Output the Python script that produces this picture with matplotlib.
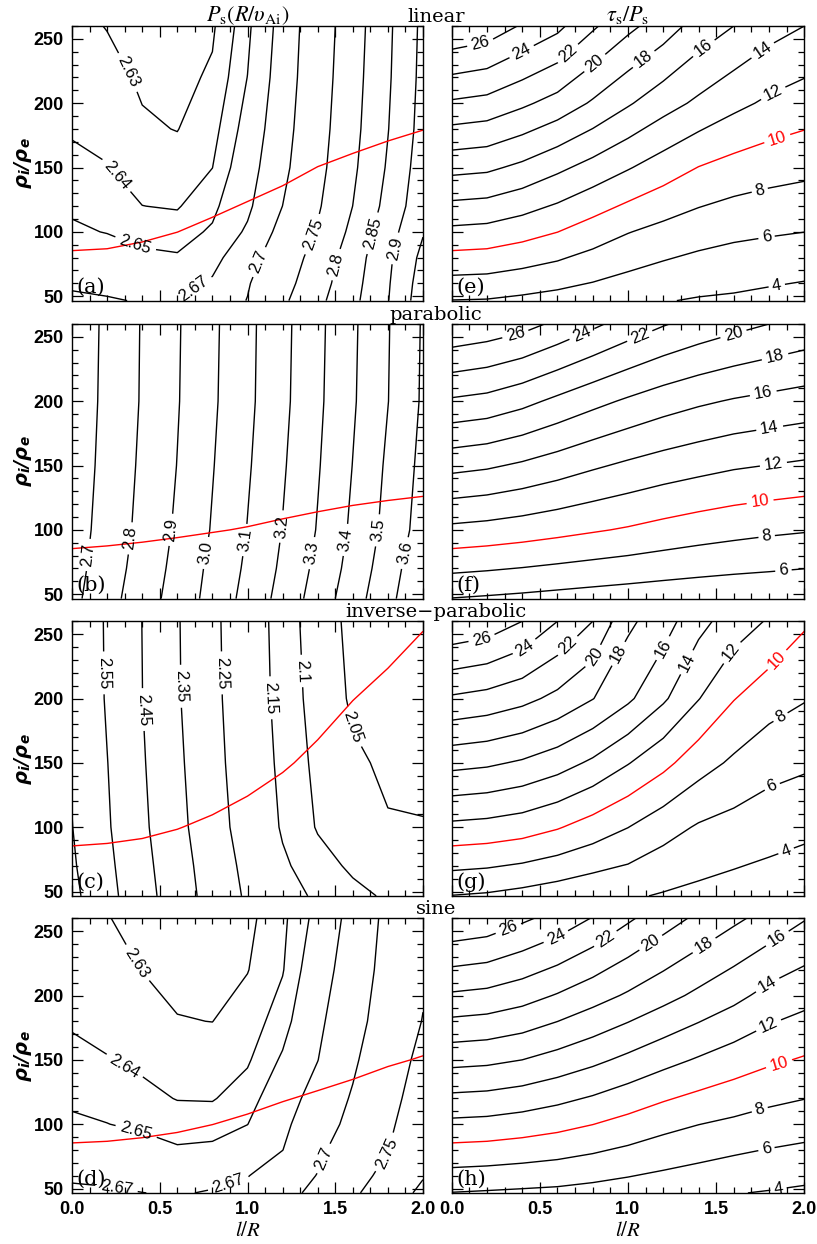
import numpy as np
import matplotlib
matplotlib.use("Agg")
import matplotlib.pyplot as plt
from matplotlib.ticker import MultipleLocator, FormatStrFormatter

# ---------------- data ----------------
l_grid = [0.0, 0.2, 0.4, 0.6, 0.8, 1.0, 1.2, 1.4, 1.6, 1.8, 2.0]

# tau_s / P_s tables, rows = density ratio values below
rho_tau = [46.6, 100, 150, 200, 260]
tau_linear = [
    [5.95, 5.88, 5.58, 5.25, 4.89, 4.49, 4.10, 3.84, 3.70, 3.45, 3.21],
    [11.52, 11.34, 10.76, 10.02, 9.03, 8.08, 7.39, 6.82, 6.42, 6.20, 6.01],
    [16.62, 16.38, 15.55, 14.43, 13.30, 12.15, 11.03, 9.95, 9.29, 8.84, 8.54],
    [21.72, 21.36, 20.36, 19.26, 17.75, 16.22, 14.80, 13.62, 12.52, 11.65, 11.05],
    [27.85, 27.25, 25.80, 24.50, 22.30, 20.50, 19.00, 17.20, 16.00, 14.80, 14.00],
]
tau_parabolic = [
    [5.95, 5.76, 5.56, 5.34, 5.14, 4.96, 4.80, 4.67, 4.56, 4.49, 4.35],
    [11.52, 11.29, 10.97, 10.59, 10.19, 9.81, 9.36, 8.96, 8.63, 8.35, 8.15],
    [16.62, 16.28, 15.70, 15.01, 14.28, 13.65, 13.10, 12.65, 12.23, 11.96, 11.70],
    [21.72, 21.36, 20.57, 19.55, 18.58, 17.71, 16.93, 16.31, 15.83, 15.48, 15.16],
    [27.85, 27.37, 26.70, 25.60, 24.40, 23.20, 22.15, 21.30, 20.60, 20.00, 19.44],
]
tau_invparabolic = [
    [5.95, 5.74, 5.34, 4.88, 4.44, 4.25, 3.83, 3.50, 3.18, 2.90, 2.51],
    [11.52, 11.32, 10.92, 10.16, 9.13, 8.03, 6.79, 5.79, 5.30, 4.85, 4.49],
    [16.62, 16.33, 15.75, 14.87, 13.65, 12.11, 10.57, 8.84, 7.66, 6.72, 6.32],
    [21.72, 21.30, 20.58, 19.48, 18.06, 16.36, 14.31, 12.08, 10.08, 8.84, 8.12],
    [27.85, 27.30, 26.00, 24.00, 22.00, 18.40, 16.90, 14.60, 13.05, 11.80, 10.28],
]
tau_sine = [
    [5.95, 5.81, 5.67, 5.54, 5.29, 5.00, 4.73, 4.44, 4.08, 3.88, 3.65],
    [11.52, 11.39, 11.06, 10.61, 10.03, 9.34, 8.59, 8.03, 7.61, 7.16, 6.85],
    [16.62, 16.44, 16.00, 15.27, 14.46, 13.55, 12.63, 11.81, 11.04, 10.33, 9.82],
    [21.72, 21.44, 20.80, 19.85, 18.80, 17.75, 16.66, 15.58, 14.55, 13.38, 12.67],
    [27.85, 27.42, 26.36, 25.30, 23.90, 22.30, 20.90, 19.60, 18.40, 17.30, 16.12],
]

# P_s tables
rho_fine = [46.6, 60, 80, 100, 120, 150, 180, 220, 260]
rho_coarse = [46.6, 70, 100, 150, 200, 260]
P_linear = [
    [2.674, 2.672, 2.6685, 2.6695, 2.680, 2.701, 2.7417, 2.788, 2.8377, 2.898, 2.978],
    [2.667, 2.664, 2.661, 2.664, 2.6728, 2.697, 2.7327, 2.779, 2.8324, 2.895, 2.973],
    [2.658, 2.6572, 2.6526, 2.6513, 2.6625, 2.687, 2.7217, 2.7684, 2.825, 2.890, 2.963],
    [2.652, 2.6495, 2.6459, 2.6446, 2.6519, 2.6735, 2.7106, 2.7542, 2.8117, 2.8793, 2.9467],
    [2.648, 2.6458, 2.6401, 2.6392, 2.6465, 2.665, 2.7002, 2.7444, 2.8003, 2.8655, 2.933],
    [2.6425, 2.6404, 2.6356, 2.634, 2.6399, 2.6594, 2.6906, 2.7357, 2.7912, 2.8552, 2.925],
    [2.639, 2.6373, 2.6313, 2.6297, 2.6363, 2.655, 2.6855, 2.7308, 2.7855, 2.8484, 2.918],
    [2.6355, 2.6334, 2.6285, 2.627, 2.6315, 2.6502, 2.681, 2.726, 2.781, 2.8435, 2.9136],
    [2.633, 2.6296, 2.6275, 2.6255, 2.6285, 2.6467, 2.6782, 2.7229, 2.777, 2.8405, 2.911],
]
P_parabolic = [
    [2.674, 2.765, 2.852, 2.941, 3.034, 3.132, 3.234, 3.344, 3.456, 3.572, 3.689],
    [2.662, 2.752, 2.839, 2.929, 3.024, 3.117, 3.218, 3.325, 3.436, 3.553, 3.673],
    [2.652, 2.740, 2.826, 2.915, 3.007, 3.103, 3.203, 3.306, 3.418, 3.531, 3.642],
    [2.6425, 2.730, 2.816, 2.902, 2.995, 3.089, 3.189, 3.292, 3.402, 3.516, 3.627],
    [2.637, 2.723, 2.808, 2.894, 2.985, 3.078, 3.177, 3.281, 3.389, 3.498, 3.613],
    [2.633, 2.720, 2.806, 2.891, 2.981, 3.075, 3.173, 3.276, 3.384, 3.494, 3.609],
]
P_invparabolic = [
    [2.674, 2.580, 2.488, 2.398, 2.313, 2.237, 2.180, 2.138, 2.112, 2.094, 2.082],
    [2.662, 2.571, 2.479, 2.390, 2.304, 2.226, 2.160, 2.118, 2.092, 2.078, 2.068],
    [2.652, 2.560, 2.468, 2.378, 2.289, 2.211, 2.143, 2.096, 2.072, 2.053, 2.052],
    [2.6425, 2.552, 2.459, 2.368, 2.279, 2.201, 2.134, 2.088, 2.057, 2.043, 2.040],
    [2.637, 2.542, 2.451, 2.359, 2.272, 2.194, 2.127, 2.081, 2.043, 2.032, 2.027],
    [2.633, 2.540, 2.449, 2.357, 2.269, 2.191, 2.123, 2.076, 2.037, 2.028, 2.024],
]
P_sine_cols = [  # one list per l value, along rho_fine
    [2.674, 2.667, 2.658, 2.652, 2.648, 2.6425, 2.639, 2.6355, 2.633],
    [2.672, 2.6667, 2.6584, 2.6502, 2.6462, 2.6404, 2.6375, 2.6337, 2.6302],
    [2.6702, 2.664, 2.655, 2.6478, 2.6428, 2.6379, 2.6345, 2.6298, 2.6285],
    [2.6685, 2.661, 2.6513, 2.6449, 2.6396, 2.635, 2.6304, 2.6275, 2.626],
    [2.6715, 2.6644, 2.6524, 2.6452, 2.6393, 2.6348, 2.6299, 2.6275, 2.6263],
    [2.6765, 2.6691, 2.6593, 2.6498, 2.6449, 2.6387, 2.6348, 2.6296, 2.6272],
    [2.690, 2.684, 2.6697, 2.6646, 2.6594, 2.6517, 2.6449, 2.6393, 2.6377],
    [2.708, 2.701, 2.6935, 2.6864, 2.6793, 2.6696, 2.6652, 2.6596, 2.654],
    [2.743, 2.730, 2.718, 2.708, 2.703, 2.695, 2.6878, 2.6818, 2.6776],
    [2.775, 2.765, 2.749, 2.741, 2.733, 2.724, 2.717, 2.7115, 2.708],
    [2.810, 2.797, 2.7913, 2.7833, 2.7754, 2.7634, 2.7515, 2.743, 2.737],
]

levels_linear = [2.63, 2.64, 2.65, 2.67, 2.7, 2.75, 2.8, 2.85, 2.9, 2.95]
levels_parabolic = [2.7, 2.8, 2.9, 3.0, 3.1, 3.2, 3.3, 3.4, 3.5, 3.6]
levels_invparabolic = [2.05, 2.1, 2.15, 2.25, 2.35, 2.45, 2.55, 2.65]
levels_sine = [2.63, 2.64, 2.65, 2.67, 2.7, 2.75, 2.8]
levels_tau = [4, 6, 8, 10, 12, 14, 16, 18, 20, 22, 24, 26]

profiles = ["linear", "parabolic", "inverse\u2212parabolic", "sine"]
panel_tags = [("(a)", "(e)"), ("(b)", "(f)"), ("(c)", "(g)"), ("(d)", "(h)")]

# ---------------- layout / style ----------------
plt.rcParams["mathtext.fontset"] = "stix"
W, H = 817, 1244
fig = plt.figure(figsize=(W / 100, H / 100), dpi=100)

row_top_px = [26, 324, 621.3, 918.3]
ax_h_px = 274.6
left_x_px, left_w_px = 72, 351
right_x_px, right_w_px = 451.7, 352.6

# manual label anchors (layout only)
lab_left = [
    [(0.292, 222), (0.235, 141.8), (0.349, 86), (0.685, 57.2), (1.08, 75.8),
     (1.378, 97.8), (1.507, 74.5), (1.71, 99), (1.833, 87.4)],
    [(0.08, 80.7), (0.32, 93.6), (0.567, 100), (0.767, 82), (0.975, 92.3),
     (1.184, 102.7), (1.364, 82), (1.554, 92.3), (1.725, 100), (1.896, 82)],
    [(0.178, 219.9), (0.402, 191.4), (0.615, 209.5), (0.852, 219.9),
     (1.118, 200.5), (1.279, 221.2), (1.583, 177.2)],
    [(0.368, 225), (0.292, 143.6), (0.359, 90.5), (0.254, 50.4), (0.89, 54.3),
     (1.45, 72.4), (1.795, 77.6)],
]
lab_right = [
    [(0.161, 247.8), (0.397, 240), (0.633, 242.7), (0.784, 235.7), (1.049, 241.4),
     (1.389, 250.4), (1.749, 244), (1.815, 210.3), (1.843, 174.1), (1.749, 131.4),
     (1.786, 95.7), (1.843, 59)],
    [(0.359, 253.3), (0.737, 252.8), (1.068, 250.2), (1.597, 252.8), (1.834, 234.6),
     (1.767, 206.2), (1.805, 177.7), (1.824, 151.9), (1.749, 122.1), (1.786, 95.5),
     (1.881, 69.6)],
    [(0.17, 247), (0.416, 239.3), (0.652, 241.9), (0.784, 234.1), (0.955, 234.1),
     (1.163, 241.9), (1.304, 230.2), (1.55, 239.3), (1.834, 231.5), (1.862, 186.3),
     (1.824, 129.3), (1.89, 84.1)],
    [(0.321, 252.2), (0.595, 244.5), (0.87, 244.5), (1.125, 241.9), (1.418, 241.9),
     (1.834, 247), (1.786, 209.5), (1.796, 177.2), (1.853, 148.7), (1.749, 110.5),
     (1.786, 80.2), (1.853, 50.4)],
]

left_data = [
    (rho_fine, np.array(P_linear), levels_linear, lambda v: f"{v:g}"),
    (rho_coarse, np.array(P_parabolic), levels_parabolic, lambda v: f"{v:.1f}"),
    (rho_coarse, np.array(P_invparabolic), levels_invparabolic, lambda v: f"{v:g}"),
    (rho_fine, np.array(P_sine_cols).T, levels_sine, lambda v: f"{v:g}"),
]
tau_data = [tau_linear, tau_parabolic, tau_invparabolic, tau_sine]

LW = 1.0
LABEL_FONT = "Liberation Sans"
LABEL_SIZE = 12


def style_axes(ax, bottom_labels, left_labels):
    ax.set_xlim(0, 2)
    ax.set_ylim(46.6, 260)
    ax.xaxis.set_major_locator(MultipleLocator(0.5))
    ax.xaxis.set_minor_locator(MultipleLocator(0.1))
    ax.yaxis.set_major_locator(MultipleLocator(50))
    ax.yaxis.set_minor_locator(MultipleLocator(10))
    ax.xaxis.set_major_formatter(FormatStrFormatter("%.1f"))
    ax.tick_params(which="both", direction="in", top=True, right=True,
                   labelbottom=bottom_labels, labelleft=left_labels, width=0.9)
    ax.tick_params(which="major", length=8, pad=6)
    ax.tick_params(which="minor", length=4)
    for lab in ax.get_xticklabels() + ax.get_yticklabels():
        lab.set_fontfamily("Liberation Sans")
        lab.set_fontweight("bold")
        lab.set_fontsize(13)
    for s in ax.spines.values():
        s.set_linewidth(1.0)


def label_contours(ax, cs, positions, fmt):
    texts = ax.clabel(cs, manual=positions, inline=True, inline_spacing=3,
                      fmt=fmt, fontsize=LABEL_SIZE)
    for t in texts:
        t.set_fontfamily(LABEL_FONT)


for i in range(4):
    y0 = 1 - (row_top_px[i] + ax_h_px) / H
    hfrac = ax_h_px / H
    axL = fig.add_axes([left_x_px / W, y0, left_w_px / W, hfrac])
    axR = fig.add_axes([right_x_px / W, y0, right_w_px / W, hfrac])
    bottom = (i == 3)
    style_axes(axL, bottom, True)
    style_axes(axR, bottom, False)

    rho_rows, Z, levs, fmt = left_data[i]
    Lg, Rg = np.meshgrid(l_grid, rho_rows)
    csL = axL.contour(Lg, Rg, Z, levels=levs, colors="black", linewidths=LW)
    label_contours(axL, csL, lab_left[i], fmt)

    T = np.array(tau_data[i])
    Lt, Rt = np.meshgrid(l_grid, rho_tau)
    axL.contour(Lt, Rt, T, levels=[10], colors="red", linewidths=LW)
    cols = ["red" if v == 10 else "black" for v in levels_tau]
    csR = axR.contour(Lt, Rt, T, levels=levels_tau, colors=cols, linewidths=LW)
    label_contours(axR, csR, lab_right[i], lambda v: f"{v:.0f}")

    for ax, tag in zip((axL, axR), panel_tags[i]):
        ax.text(0.012, 0.015, tag, transform=ax.transAxes, ha="left",
                va="bottom", fontsize=15, family="DejaVu Serif")

    fig.text(436 / W, 1 - (row_top_px[i] - 4.5) / H, profiles[i],
             ha="center", va="baseline", fontsize=14, family="DejaVu Serif")

    yc = 1 - (row_top_px[i] + ax_h_px / 2) / H
    fig.text(23 / W, yc, "\u03c1$_\\mathregular{i}$/\u03c1$_\\mathregular{e}$",
             rotation=90, ha="center", va="center", fontsize=14,
             family="DejaVu Sans", weight="bold", style="italic")

fig.text((left_x_px + left_w_px / 2) / W, 1 - 21 / H,
         r"$P_{\rm s}(R/\upsilon_{\rm Ai})$", ha="center", va="baseline", fontsize=16)
fig.text((right_x_px + right_w_px / 2) / W, 1 - 21 / H,
         r"$\tau_{\rm s}/P_{\rm s}$", ha="center", va="baseline", fontsize=16)
for xc in (left_x_px + left_w_px / 2, right_x_px + right_w_px / 2):
    fig.text(xc / W, 1 - 1230 / H, r"$l/R$", ha="center", va="center", fontsize=15)

fig.savefig("out.png", dpi=100)
